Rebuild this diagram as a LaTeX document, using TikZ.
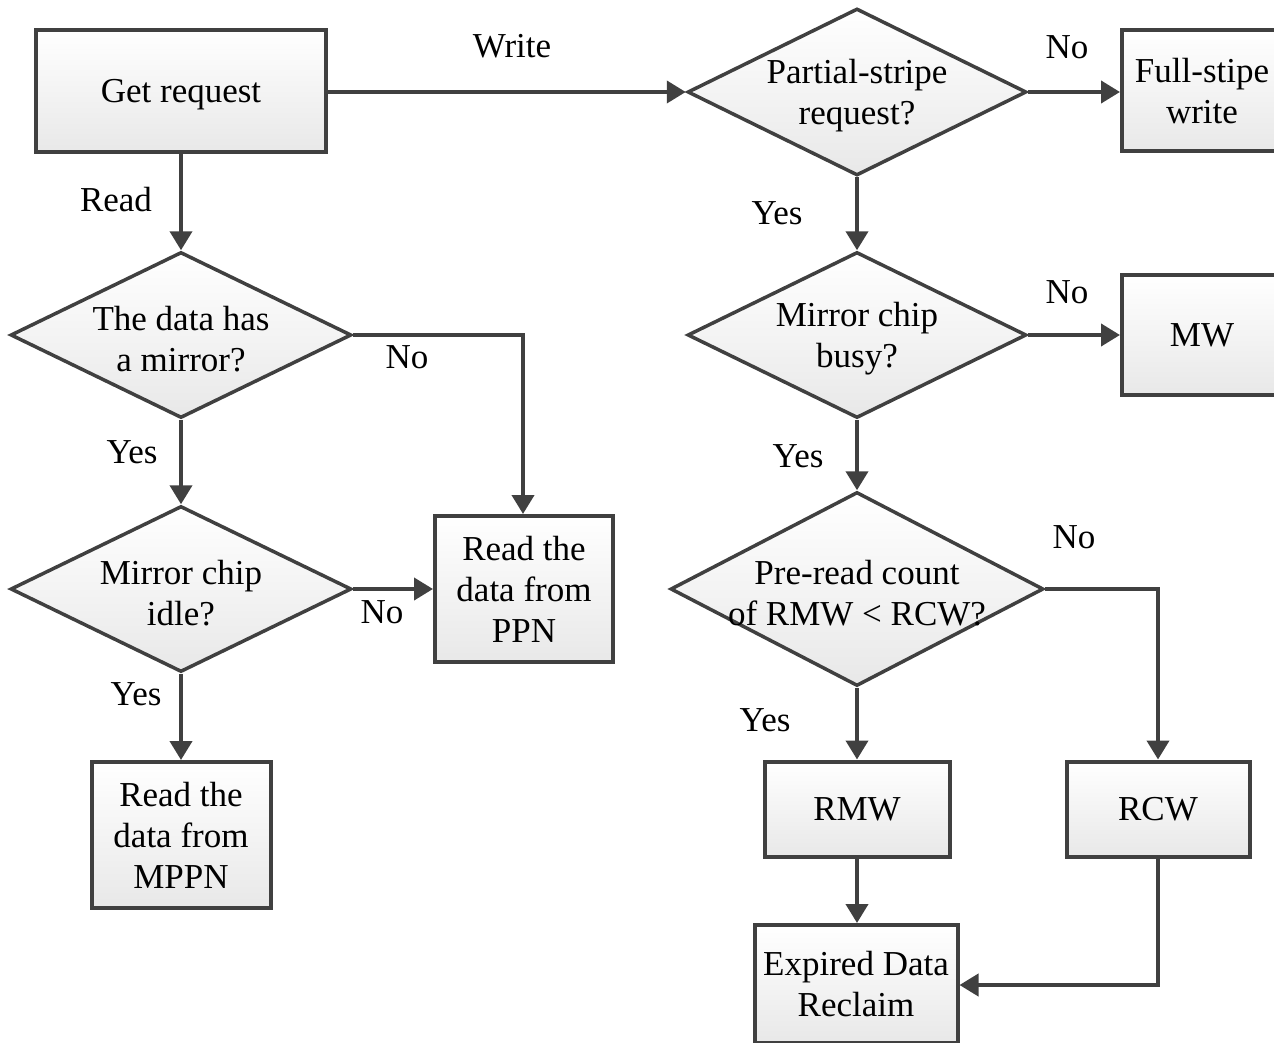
\documentclass[tikz,border=0pt]{standalone}
\usepackage{fontspec}
\setmainfont{Liberation Serif}
\usetikzlibrary{shapes.geometric,arrows.meta}
\definecolor{lc}{HTML}{404040}
\tikzset{
  box/.style={rectangle, draw=lc, line width=4pt, top color=white, bottom color=gray!18, inner sep=0pt, align=center},
  dia/.style={diamond, draw=lc, line width=3.5pt, top color=white, bottom color=gray!18, inner sep=0pt},
  txt/.style={align=center, inner sep=0pt, yshift=-4pt},
  lbl/.style={inner sep=0pt},
  arr/.style={draw=lc, line width=4pt, -{Triangle[length=19pt,width=22pt]}},
  ln/.style={draw=lc, line width=4pt},
}
\begin{document}
\begin{tikzpicture}[x=1pt,y=-1pt,font=\fontsize{35}{41}\selectfont]
\useasboundingbox (0,0) rectangle (1274,1043);
% boxes
\node[box, minimum width=290pt, minimum height=122pt, text depth=0pt] (get) at (181,91) {Get request};
\node[box, minimum width=160pt, minimum height=121pt] (full) at (1202,91) {Full-stipe\\write};
\node[box, minimum width=160pt, minimum height=120pt] (mw) at (1202,335) {MW};
\node[box, minimum width=178pt, minimum height=146pt] (ppn) at (524,589) {Read the\\data from\\PPN};
\node[box, minimum width=179pt, minimum height=146pt] (mppn) at (181,835) {Read the\\data from\\MPPN};
\node[box, minimum width=185pt, minimum height=95pt] (rmw) at (857,809) {RMW};
\node[box, minimum width=183pt, minimum height=95pt] (rcw) at (1158,809) {RCW};
\node[box, minimum width=203pt, minimum height=118pt] (exp) at (856,984) {Expired Data\\Reclaim};
% diamonds
\node[dia, minimum width=339pt, minimum height=167pt] (d1) at (857,92) {};
\node[txt] (t1) at (d1) {Partial-stripe\\request?};
\node[dia, minimum width=339pt, minimum height=166pt] (d2) at (857,335) {};
\node[txt] (t2) at (d2) {Mirror chip\\busy?};
\node[dia, minimum width=373pt, minimum height=194pt] (d3) at (857,589) {};
\node[txt] (t3) at (d3) {Pre-read count\\of RMW < RCW?};
\node[dia, minimum width=341pt, minimum height=166pt] (l1) at (181,335) {};
\node[txt] (tl1) at (l1) {The data has\\a mirror?};
\node[dia, minimum width=341pt, minimum height=166pt] (l2) at (181,589) {};
\node[txt] (tl2) at (l2) {Mirror chip\\idle?};
% labels
\node[lbl] (lw) at (512,46) {Write};
\node[lbl] (ln1) at (1067,47) {No};
\node[lbl] (ly1) at (777,213) {Yes};
\node[lbl] (ln2) at (1067,292) {No};
\node[lbl] (ly2) at (798,456) {Yes};
\node[lbl] (ln3) at (1074,537) {No};
\node[lbl] (ly3) at (765,720) {Yes};
\node[lbl] (lr) at (116,200) {Read};
\node[lbl] (ln4) at (407,357) {No};
\node[lbl] (ly4) at (132,452) {Yes};
\node[lbl] (ln5) at (382,612) {No};
\node[lbl] (ly5) at (136,694) {Yes};
% connectors
\coordinate (c1) at (1158,589);
\coordinate (c2) at (1158,985);
\coordinate (c3) at (523,335);
\draw[arr] (get.east |- d1.west) -- (d1.west);
\draw[arr] (d1.east) -- (full.west |- d1.east);
\draw[arr] (d1.south) -- (d2.north);
\draw[arr] (d2.east) -- (mw.west |- d2.east);
\draw[arr] (d2.south) -- (d3.north);
\draw[arr] (d3.east) -- (c1) -- (rcw.north);
\draw[arr] (d3.south) -- (rmw.north);
\draw[arr] (rmw.south) -- (exp.north -| rmw.south);
\draw[arr] (rcw.south) -- (c2) -- (exp.east |- c2);
\draw[arr] (get.south) -- (l1.north);
\draw[arr] (l1.east) -- (c3) -- (ppn.north -| c3);
\draw[arr] (l1.south) -- (l2.north);
\draw[arr] (l2.east) -- (ppn.west |- l2.east);
\draw[arr] (l2.south) -- (mppn.north);
\end{tikzpicture}
\end{document}
